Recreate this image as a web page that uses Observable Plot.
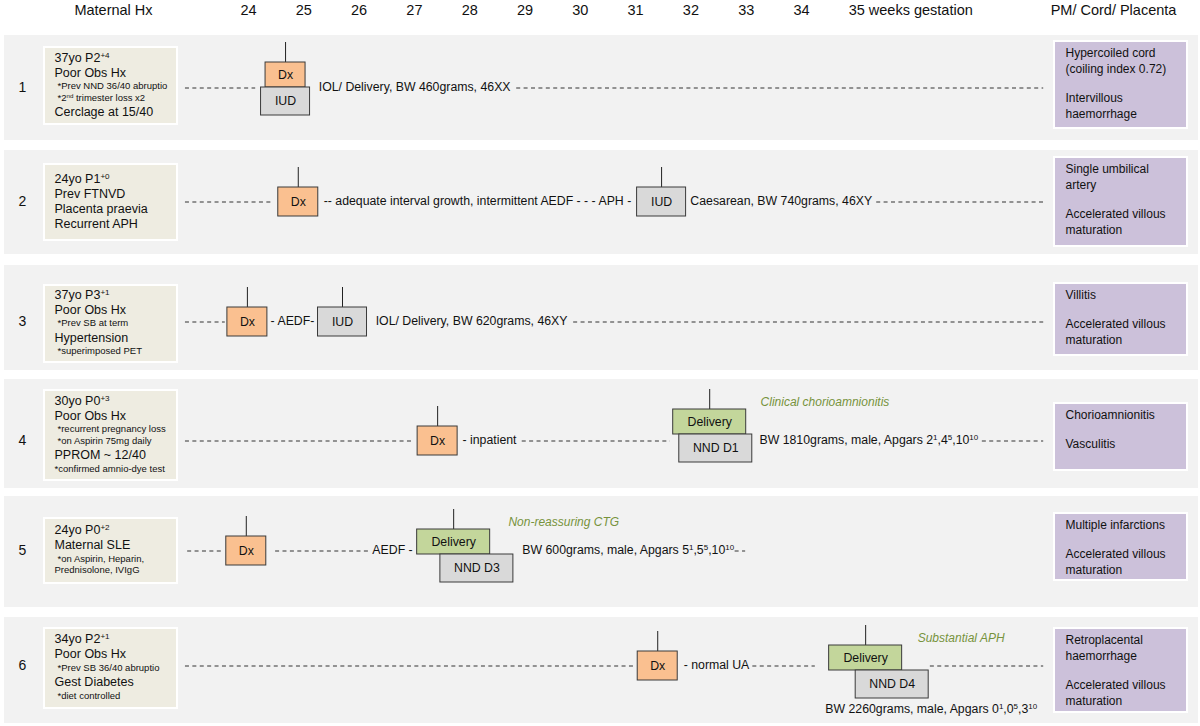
<!DOCTYPE html>
<html><head><meta charset="utf-8">
<script src="https://cdn.jsdelivr.net/npm/d3@7"></script>
<script src="https://cdn.jsdelivr.net/npm/@observablehq/plot@0.6"></script>
<style>body{margin:0;background:#fff} #chart svg{display:block}</style>
</head><body><div id="chart"></div>
<script>
// ---------- data ----------
const weeks = [24,25,26,27,28,29,30,31,32,33,34,35];
const caseIds = [1,2,3,4,5,6];

// maternal history lines: kind m = main line, n = indented note, n0 = flush note
const maternalHx = [
  {c:1,t:"37yo P2⁺⁴",k:"m"},{c:1,t:"Poor Obs Hx",k:"m"},{c:1,t:"*Prev NND 36/40 abruptio",k:"n"},{c:1,t:"*2ⁿᵈ trimester loss x2",k:"n"},{c:1,t:"Cerclage at 15/40",k:"m"},
  {c:2,t:"24yo P1⁺⁰",k:"m"},{c:2,t:"Prev FTNVD",k:"m"},{c:2,t:"Placenta praevia",k:"m"},{c:2,t:"Recurrent APH",k:"m"},
  {c:3,t:"37yo P3⁺¹",k:"m"},{c:3,t:"Poor Obs Hx",k:"m"},{c:3,t:"*Prev SB at term",k:"n"},{c:3,t:"Hypertension",k:"m"},{c:3,t:"*superimposed PET",k:"n"},
  {c:4,t:"30yo P0⁺³",k:"m"},{c:4,t:"Poor Obs Hx",k:"m"},{c:4,t:"*recurrent pregnancy loss",k:"n"},{c:4,t:"*on Aspirin 75mg daily",k:"n"},{c:4,t:"PPROM ~ 12/40",k:"m"},{c:4,t:"*confirmed amnio-dye test",k:"n0"},
  {c:5,t:"24yo P0⁺²",k:"m"},{c:5,t:"Maternal SLE",k:"m"},{c:5,t:"*on Aspirin, Heparin,",k:"n"},{c:5,t:"Prednisolone, IVIgG",k:"n0"},
  {c:6,t:"34yo P2⁺¹",k:"m"},{c:6,t:"Poor Obs Hx",k:"m"},{c:6,t:"*Prev SB 36/40 abruptio",k:"n"},{c:6,t:"Gest Diabetes",k:"m"},{c:6,t:"*diet controlled",k:"n"}
];

const pmFindings = [
  "Hypercoiled cord\n(coiling index 0.72)\n\nIntervillous\nhaemorrhage",
  "Single umbilical\nartery\n\nAccelerated villous\nmaturation",
  "Villitis\n\nAccelerated villous\nmaturation",
  "Chorioamnionitis\n\nVasculitis",
  "Multiple infarctions\n\nAccelerated villous\nmaturation",
  "Retroplacental\nhaemorrhage\n\nAccelerated villous\nmaturation"
];

// events: gestational week of box centre
const events = [
  {c:1,week:24.67,label:"Dx",kind:"Dx",stack:"top"},
  {c:1,week:24.67,label:"IUD",kind:"IUD",stack:"bottom"},
  {c:2,week:24.90,label:"Dx",kind:"Dx",stack:"single"},
  {c:2,week:31.47,label:"IUD",kind:"IUD",stack:"single"},
  {c:3,week:23.98,label:"Dx",kind:"Dx",stack:"single"},
  {c:3,week:25.70,label:"IUD",kind:"IUD",stack:"single"},
  {c:4,week:27.42,label:"Dx",kind:"Dx",stack:"single"},
  {c:4,week:32.34,label:"Delivery",kind:"Delivery",stack:"top"},
  {c:4,week:32.45,label:"NND D1",kind:"NND",stack:"bottom"},
  {c:5,week:23.96,label:"Dx",kind:"Dx",stack:"single"},
  {c:5,week:27.71,label:"Delivery",kind:"Delivery",stack:"top"},
  {c:5,week:28.13,label:"NND D3",kind:"NND",stack:"bottom"},
  {c:6,week:31.40,label:"Dx",kind:"Dx",stack:"single"},
  {c:6,week:35.16,label:"Delivery",kind:"Delivery",stack:"top"},
  {c:6,week:35.64,label:"NND D4",kind:"NND",stack:"bottom"}
];

// timeline texts: week where the text starts
const timelineText = [
  {c:1,week:25.27,t:"IOL/ Delivery, BW 460grams, 46XX",pos:"line"},
  {c:2,week:25.36,t:"-- adequate interval growth, intermittent AEDF - - - APH -",pos:"line"},
  {c:2,week:31.99,t:"Caesarean, BW 740grams, 46XY",pos:"line"},
  {c:3,week:24.40,t:"- AEDF-",pos:"line"},
  {c:3,week:26.30,t:"IOL/ Delivery, BW 620grams, 46XY",pos:"line"},
  {c:4,week:27.87,t:"- inpatient",pos:"line"},
  {c:4,week:33.24,t:"BW 1810grams, male, Apgars 2¹,4⁵,10¹⁰",pos:"line"},
  {c:5,week:26.24,t:"AEDF -",pos:"line"},
  {c:5,week:28.95,t:"BW 600grams, male, Apgars 5¹,5⁵,10¹⁰",pos:"line"},
  {c:6,week:31.87,t:"- normal UA",pos:"line"},
  {c:6,week:34.43,t:"BW 2260grams, male, Apgars 0¹,0⁵,3¹⁰",pos:"below"}
];

const clinicalNotes = [
  {c:4,week:33.26,t:"Clinical chorioamnionitis"},
  {c:5,week:28.70,t:"Non-reassuring CTG"},
  {c:6,week:36.10,t:"Substantial APH"}
];

// dashed timeline intervals (weeks)
const dashedIntervals = [
  {c:1,from:22.86,to:24.13},{c:1,from:28.85,to:38.38},
  {c:2,from:22.86,to:24.43},{c:2,from:35.36,to:38.38},
  {c:3,from:22.86,to:23.58},{c:3,from:29.88,to:38.38},
  {c:4,from:22.86,to:26.97},{c:4,from:28.95,to:31.63},{c:4,from:37.27,to:38.38},
  {c:5,from:22.90,to:23.53},{c:5,from:24.49,to:26.21},{c:5,from:32.80,to:32.99},
  {c:6,from:22.86,to:31.00},{c:6,from:33.12,to:34.25},{c:6,from:36.33,to:38.38}
];

// ---------- layout / style ----------
const PXW = 55.3, PX24 = 248;
const W = p => 24 + (p - PX24) / PXW;          // pixel layout -> week units
const layout = [
  {band:[35,140], line:87,  split:87,  mat:[47,124],  pm:[41,128]},
  {band:[150,254],line:201, split:201, mat:[164,240], pm:[157,246]},
  {band:[265,370],line:321, split:321, mat:[285,362], pm:[283,355]},
  {band:[379,488],line:440, split:434, mat:[390,480], pm:[403,470]},
  {band:[496,607],line:550, split:554, mat:[518,583], pm:[513,580]},
  {band:[617,723],line:665, split:670, mat:[628,708], pm:[628,712]}
];
const L = c => layout[c - 1];
const boxStyle = {
  Dx:{w:40, fill:"#fac090"},
  IUD:{w:49, fill:"#d9d9d9"},
  Delivery:{w:73, fill:"#c3d69b"},
  NND:{w:73, fill:"#d9d9d9"}
};
function boxY(e) {
  const l = L(e.c);
  if (e.stack === "single") return [l.line - 14, l.line + 15];
  if (e.stack === "top") return [l.split - 25, l.split];
  return [l.split, l.split + 28];
}
const FONT = "'Liberation Sans', Arial, Helvetica, sans-serif";

// maternal line positions (centred block in the box)
const adv = (prev, cur) => cur === "m" ? (prev === "m" ? 15 : 14.5) : (prev === "m" ? 13.5 : 11.5);
const matPos = [];
for (const c of caseIds) {
  const lines = maternalHx.filter(d => d.c === c);
  const ys = [0];
  for (let i = 1; i < lines.length; i++) ys.push(ys[i-1] + adv(lines[i-1].k, lines[i].k));
  const h = ys[ys.length-1];
  const mid = (L(c).mat[0] + L(c).mat[1]) / 2 - 1;
  lines.forEach((d, i) => matPos.push({...d, y: mid - h/2 + ys[i]}));
}
// PM line positions
const pmPos = [];
pmFindings.forEach((s, i) => {
  let y = L(i+1).pm[0] + 12;
  s.split("\n").forEach(t => {
    if (t !== "") pmPos.push({c:i+1, t, y});
    y += (t === "" ? 13 : 15.8);
  });
});

const bottoms = events.filter(e => e.stack === "bottom");
const tops = events.filter(e => e.stack !== "bottom");

const boxMark = data => Plot.rect(data, {
  x1: e => e.week - boxStyle[e.kind].w / 2 / PXW,
  x2: e => e.week + boxStyle[e.kind].w / 2 / PXW,
  y1: e => boxY(e)[0], y2: e => boxY(e)[1],
  fill: e => boxStyle[e.kind].fill, stroke: "#3a3a3a", strokeWidth: 1
});
const boxLabel = data => Plot.text(data, {
  x: e => e.week, y: e => (boxY(e)[0] + boxY(e)[1]) / 2, text: "label",
  fontSize: 12.3, fontFamily: FONT, fill: "#111"
});

const chart = Plot.plot({
  width: 1200, height: 726, margin: 0,
  x: {domain: [W(0), W(1200)], axis: null},
  y: {domain: [0, 726], range: [0, 726], axis: null},
  style: {fontFamily: FONT, background: "#fff"},
  marks: [
    // header
    Plot.text(weeks, {x: d => d, y: () => 10, text: d => String(d), fontSize: 14.5, fill: "#111"}),
    Plot.text(["weeks gestation"], {x: () => 35, y: () => 10, text: d => d, dx: 12, textAnchor: "start", fontSize: 14.5, fill: "#111"}),
    Plot.text(["Maternal Hx"], {x: () => W(113), y: () => 10, text: d => d, fontSize: 14.5, fill: "#111"}),
    Plot.text(["PM/ Cord/ Placenta"], {x: () => W(1113), y: () => 10, text: d => d, fontSize: 14.5, fill: "#111"}),
    // bands
    Plot.rect(caseIds, {x1: () => W(4), x2: () => W(1198), y1: c => L(c).band[0], y2: c => L(c).band[1], fill: "#f2f2f2"}),
    // maternal & PM boxes
    Plot.rect(caseIds, {x1: () => W(44), x2: () => W(177), y1: c => L(c).mat[0], y2: c => L(c).mat[1], fill: "#eeece1", stroke: "#fff", strokeWidth: 2}),
    Plot.rect(caseIds, {x1: () => W(1054), x2: () => W(1187), y1: c => L(c).pm[0], y2: c => L(c).pm[1], fill: "#ccc1da", stroke: "#fff", strokeWidth: 2}),
    // case numbers
    Plot.text(caseIds, {x: () => W(22), y: c => L(c).line, text: c => String(c), fontSize: 14, fill: "#111"}),
    // maternal text
    Plot.text(matPos, {x: d => W(d.k === "n" ? 57 : 54), y: "y", text: "t", textAnchor: "start",
      fontSize: d => d.k === "m" ? 12.5 : 9.5, fill: "#111"}),
    // PM text
    Plot.text(pmPos, {x: () => W(1065), y: "y", text: "t", textAnchor: "start", fontSize: 12, fill: "#111"}),
    // dashed intervals
    Plot.ruleY(dashedIntervals, {x1: "from", x2: "to", y: d => L(d.c).line + 0.5, stroke: "#333", strokeWidth: 1, strokeDasharray: "4,3.4"}),
    // ticks above first boxes
    Plot.ruleX(tops, {x: "week", y1: e => boxY(e)[0] - 20, y2: e => boxY(e)[0], stroke: "#222", strokeWidth: 1}),
    // boxes (top/single then bottom)
    boxMark(tops), boxLabel(tops),
    boxMark(bottoms), boxLabel(bottoms),
    // timeline texts
    Plot.text(timelineText, {x: "week", y: d => d.pos === "below" ? L(d.c).split + 39 : L(d.c).line, text: "t",
      textAnchor: "start", fontSize: 12.3, fill: "#111"}),
    // clinical notes
    Plot.text(clinicalNotes, {x: "week", y: d => L(d.c).split - 32, text: "t", textAnchor: "start",
      fontSize: 12, fontStyle: "italic", fill: "#77933c"})
  ]
});

// render unicode superscripts as raised smaller tspans (still real text)
const SUP = {"⁺":"+","⁰":"0","¹":"1","²":"2","³":"3","⁴":"4","⁵":"5","ⁿ":"n","ᵈ":"d"};
chart.querySelectorAll("text").forEach(el => {
  if (el.children.length) return;
  const s = el.textContent;
  if (![...s].some(ch => SUP[ch])) return;
  el.textContent = "";
  let buf = "", sup = false;
  const flush = () => {
    if (!buf) return;
    if (sup) {
      const t = document.createElementNS("http://www.w3.org/2000/svg", "tspan");
      t.setAttribute("baseline-shift", "super");
      t.setAttribute("font-size", "65%");
      t.textContent = buf;
      el.appendChild(t);
    } else {
      el.appendChild(document.createTextNode(buf));
    }
    buf = "";
  };
  for (const ch of s) {
    const isSup = !!SUP[ch];
    if (isSup !== sup) { flush(); sup = isSup; }
    buf += isSup ? SUP[ch] : ch;
  }
  flush();
});
document.getElementById("chart").appendChild(chart);
</script>
</body></html>
